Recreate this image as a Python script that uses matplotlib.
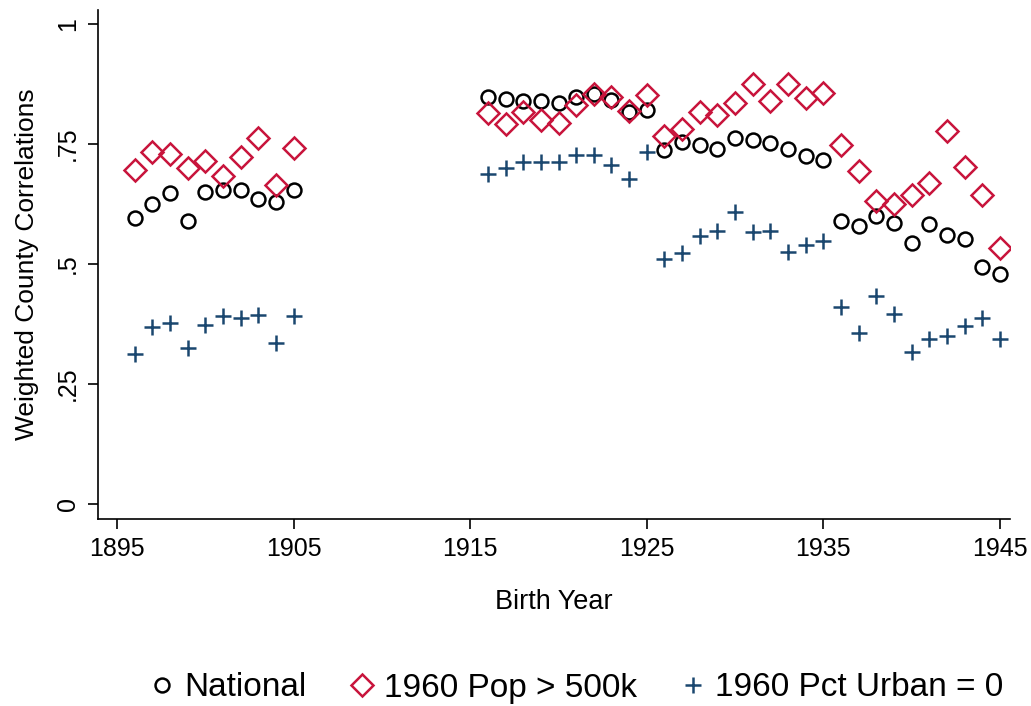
import matplotlib
matplotlib.use("Agg")
import matplotlib.pyplot as plt

plt.rcParams["font.family"] = ["Liberation Sans", "DejaVu Sans"]

# Birth cohorts (no estimates for 1906-1915)
years = list(range(1896, 1906)) + list(range(1916, 1946))

national = [0.596, 0.625, 0.648, 0.590, 0.650, 0.654, 0.654, 0.635, 0.629, 0.654,
            0.848, 0.844, 0.840, 0.840, 0.835, 0.848, 0.854, 0.842, 0.817, 0.821,
            0.738, 0.754, 0.748, 0.740, 0.763, 0.758, 0.752, 0.740, 0.725, 0.717,
            0.590, 0.579, 0.600, 0.585, 0.544, 0.583, 0.560, 0.552, 0.494, 0.479]

pop500k = [0.696, 0.733, 0.729, 0.700, 0.715, 0.683, 0.723, 0.763, 0.665, 0.742,
           0.815, 0.792, 0.817, 0.800, 0.794, 0.831, 0.854, 0.848, 0.819, 0.852,
           0.767, 0.781, 0.817, 0.810, 0.835, 0.875, 0.840, 0.875, 0.846, 0.856,
           0.748, 0.694, 0.631, 0.625, 0.644, 0.669, 0.777, 0.702, 0.644, 0.533]

urban0 = [0.313, 0.369, 0.377, 0.325, 0.373, 0.392, 0.388, 0.394, 0.335, 0.392,
          0.688, 0.700, 0.713, 0.713, 0.713, 0.727, 0.727, 0.706, 0.677, 0.733,
          0.510, 0.523, 0.558, 0.569, 0.608, 0.567, 0.569, 0.525, 0.540, 0.548,
          0.410, 0.356, 0.433, 0.396, 0.317, 0.344, 0.350, 0.371, 0.388, 0.344]

x_ticks = [1895, 1905, 1915, 1925, 1935, 1945]
y_ticks = [0, 0.25, 0.5, 0.75, 1]
y_ticklabels = ["0", ".25", ".5", ".75", "1"]

red = "#C8143C"
navy = "#1A476F"

fig = plt.figure(figsize=(10.31, 7.06), dpi=100)
ax = fig.add_axes([98 / 1031, 187 / 706, 912 / 1031, 509 / 706])

ax.plot(years, national, ls="none", marker="o", ms=10, mfc="none",
        mec="black", mew=1.8, label="National")
ax.plot(years, pop500k, ls="none", marker="D", ms=11, mfc="none",
        mec=red, mew=1.8, label="1960 Pop > 500k")
ax.plot(years, urban0, ls="none", marker="+", ms=11, mec=navy,
        mew=1.8, label="1960 Pct Urban = 0")

ax.set_xlim(1893.92, 1945.57)
ax.set_ylim(-0.031, 1.029)
ax.set_xticks(x_ticks)
ax.set_yticks(y_ticks)
ax.set_yticklabels(y_ticklabels, rotation=90, va="center")
ax.tick_params(labelsize=18, length=7, width=1.2, pad=6)

for side in ["top", "right"]:
    ax.spines[side].set_visible(False)
for side in ["left", "bottom"]:
    ax.spines[side].set_linewidth(1.2)

ax.set_xlabel("Birth Year", fontsize=19.5, labelpad=20)
ax.set_ylabel("Weighted County Correlations", fontsize=19, labelpad=12)

fig.legend(loc="center", bbox_to_anchor=(576 / 1031, 1 - 688 / 706), ncol=3,
           frameon=False, fontsize=24, handlelength=0.8, handletextpad=0.26,
           columnspacing=1.28, borderpad=0)

fig.savefig("out.png", dpi=100)
